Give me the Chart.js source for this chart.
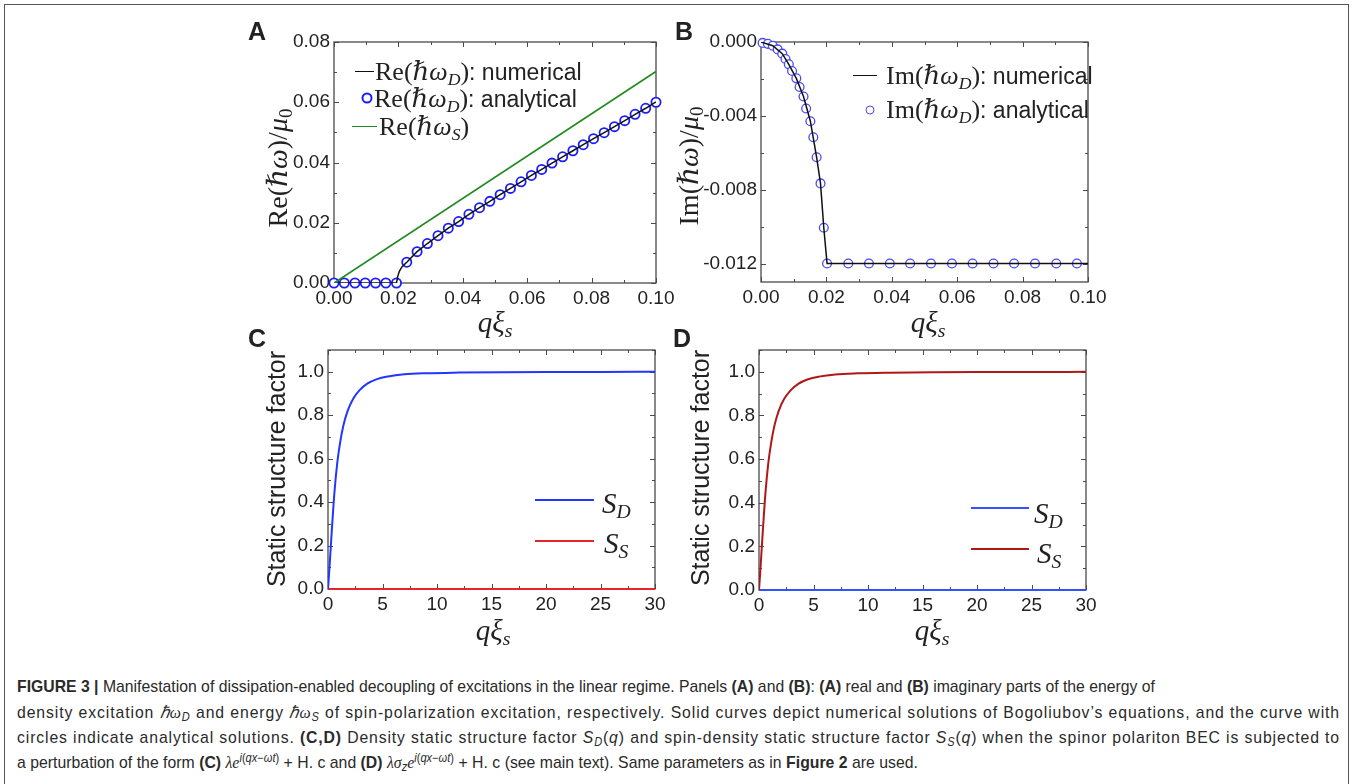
<!DOCTYPE html>
<html lang="en">
<head>
<meta charset="UTF-8">
<title>Figure 3</title>
<script src="https://cdn.jsdelivr.net/npm/chart.js"></script>
<style>
    body {
        margin: 0;
        width: 1352px;
        height: 784px;
        overflow: hidden;
        position: relative;
        background: #fff;
        color: #222;
        font-family: "Liberation Sans", Arial, sans-serif;
    }
    #frame {
        position: absolute;
        left: 4px; top: 4px;
        width: 1345px; height: 900px;
        box-sizing: border-box;
        border: 1.5px solid #555;
    }
    .box { position: absolute; }
    .letter { position: absolute; font-weight: bold; font-size: 25px; line-height: 25px; }
    .m { font-family: "Liberation Serif", "DejaVu Serif", serif; }
    .m sub, .leg sub { font-size: 68%; vertical-align: -0.3em; line-height: 0; }
    .ytitle { position: absolute; white-space: nowrap; transform: translate(-50%, -50%) rotate(-90deg); }
    .xtitle { position: absolute; white-space: nowrap; transform: translate(-50%, -50%); }
    .leg { position: absolute; white-space: nowrap; transform: translateY(-50%); line-height: 1; }
    .legline { position: absolute; height: 0; }
    .legcirc { position: absolute; width: 7px; height: 7px; border-radius: 50%; background: #fff; transform: translate(-50%, -50%); }
    .cap { position: absolute; left: 17px; white-space: nowrap; font-size: 17px; line-height: 20px; color: #2a2a2a; transform-origin: 0 50%; }
    .cap sub, .cap sup { font-size: 70%; line-height: 0; }
    .cap sub { vertical-align: -0.25em; }
    .cap sup { vertical-align: 0.5em; }
    .cap i.s { font-family: "Liberation Serif", serif; }
</style>
</head>
<body>
<div id="frame"></div>

<div class="box" id="boxA"><canvas id="chartA"></canvas></div>
<div class="box" id="boxB"><canvas id="chartB"></canvas></div>
<div class="box" id="boxC"><canvas id="chartC"></canvas></div>
<div class="box" id="boxD"><canvas id="chartD"></canvas></div>

<div class="letter" style="left:248px; top:19px;">A</div>
<div class="letter" style="left:675px; top:19px;">B</div>
<div class="letter" style="left:248px; top:326px;">C</div>
<div class="letter" style="left:673px; top:326px;">D</div>

<!-- axis titles -->
<div class="ytitle m" style="left:277px; top:168px; font-size:28px;">Re(<i>ℏω</i>)/<i>μ</i><sub>0</sub></div>
<div class="ytitle m" style="left:688px; top:166px; font-size:28px;">Im(<i>ℏω</i>)/<i>μ</i><sub>0</sub></div>
<div class="ytitle" style="left:276px; top:469px; font-size:25px;">Static structure factor</div>
<div class="ytitle" style="left:700px; top:468px; font-size:25px;">Static structure factor</div>
<div class="xtitle m" style="left:495px; top:322px; font-size:29px;"><i>qξ<sub>s</sub></i></div>
<div class="xtitle m" style="left:928px; top:322px; font-size:29px;"><i>qξ<sub>s</sub></i></div>
<div class="xtitle m" style="left:493px; top:630px; font-size:29px;"><i>qξ<sub>s</sub></i></div>
<div class="xtitle m" style="left:932px; top:630px; font-size:29px;"><i>qξ<sub>s</sub></i></div>

<!-- legend A -->
<div class="legline" style="left:355px; top:71px; width:19px; border-top:1.6px solid #111;"></div>
<div class="leg" style="left:375px; top:72px;"><span class="m" style="font-size:26px;">Re(<i>ℏω</i><sub><i>D</i></sub>)</span><span style="font-size:23px;">: numerical</span></div>
<div class="legcirc" style="left:367px; top:98px; border:2px solid #1c1cff;"></div>
<div class="leg" style="left:374px; top:99px;"><span class="m" style="font-size:26px;">Re(<i>ℏω</i><sub><i>D</i></sub>)</span><span style="font-size:23px;">: analytical</span></div>
<div class="legline" style="left:352px; top:126px; width:25px; border-top:1.6px solid #1f8a1f;"></div>
<div class="leg" style="left:379px; top:127px;"><span class="m" style="font-size:26px;">Re(<i>ℏω</i><sub><i>S</i></sub>)</span></div>

<!-- legend B -->
<div class="legline" style="left:853px; top:75px; width:24px; border-top:1.6px solid #111;"></div>
<div class="leg" style="left:886px; top:76px;"><span class="m" style="font-size:26px;">Im(<i>ℏω</i><sub><i>D</i></sub>)</span><span style="font-size:23px;">: numerical</span></div>
<div class="legcirc" style="left:870px; top:110px; border:1.6px solid #4a4af5;"></div>
<div class="leg" style="left:886px; top:110px;"><span class="m" style="font-size:26px;">Im(<i>ℏω</i><sub><i>D</i></sub>)</span><span style="font-size:23px;">: analytical</span></div>

<!-- legend C -->
<div class="legline" style="left:535px; top:499px; width:59px; border-top:2px solid #2136ff;"></div>
<div class="leg m" style="left:602px; top:503px; font-size:29px;"><i>S<sub>D</sub></i></div>
<div class="legline" style="left:535px; top:540px; width:59px; border-top:2px solid #e2262a;"></div>
<div class="leg m" style="left:604px; top:543px; font-size:29px;"><i>S<sub>S</sub></i></div>

<!-- legend D -->
<div class="legline" style="left:971px; top:507px; width:58px; border-top:2px solid #3550ff;"></div>
<div class="leg m" style="left:1034px; top:513px; font-size:29px;"><i>S<sub>D</sub></i></div>
<div class="legline" style="left:971px; top:548px; width:58px; border-top:2px solid #b01818;"></div>
<div class="leg m" style="left:1037px; top:553px; font-size:29px;"><i>S<sub>S</sub></i></div>

<!-- caption -->
<div class="cap" data-w="1138" style="top:677px;"><b>FIGURE 3 |</b> Manifestation of dissipation-enabled decoupling of excitations in the linear regime. Panels <b>(A)</b> and <b>(B)</b>: <b>(A)</b> real and <b>(B)</b> imaginary parts of the energy of</div>
<div class="cap" data-w="1323" style="top:703px;">density excitation <i class="s">ℏω</i><sub><i>D</i></sub> and energy <i class="s">ℏω</i><sub><i>S</i></sub> of spin-polarization excitation, respectively. Solid curves depict numerical solutions of Bogoliubov’s equations, and the curve with</div>
<div class="cap" data-w="1323" style="top:728px;">circles indicate analytical solutions. <b>(C,D)</b> Density static structure factor <i>S</i><sub><i>D</i></sub>(<i>q</i>) and spin-density static structure factor <i>S</i><sub><i>S</i></sub>(<i>q</i>) when the spinor polariton BEC is subjected to</div>
<div class="cap" data-w="901" style="top:753px;">a perturbation of the form <b>(C)</b> <i class="s">λe</i><sup><i>i</i>(<i>qx</i>−<i>ωt</i>)</sup> + H. c and <b>(D)</b> <i class="s">λσ</i><sub><i>z</i></sub><i class="s">e</i><sup><i>i</i>(<i>qx</i>−<i>ωt</i>)</sup> + H. c (see main text). Same parameters as in <b>Figure 2</b> are used.</div>

<script>
// ---- panel A: real part ----
const qCircA = [0, 0.0032, 0.0065, 0.0097, 0.0129, 0.0161, 0.0194, 0.0226, 0.0258, 0.0290, 0.0323,
    0.0355, 0.0387, 0.0419, 0.0452, 0.0484, 0.0516, 0.0548, 0.0581, 0.0613, 0.0645, 0.0677,
    0.0710, 0.0742, 0.0774, 0.0806, 0.0839, 0.0871, 0.0903, 0.0935, 0.0968, 0.1000];
const reAnalytical = [0, 0, 0, 0, 0, 0, 0, 0.0069, 0.0104, 0.0131, 0.0157,
    0.0182, 0.0204, 0.0228, 0.0250, 0.0271, 0.0293, 0.0314, 0.0336, 0.0357, 0.0377, 0.0398,
    0.0419, 0.0439, 0.0459, 0.0479, 0.0499, 0.0519, 0.0539, 0.0560, 0.0580, 0.0600];
const qNumA = [0, 0.0194, 0.0198, 0.0203, 0.0210, 0.0218, 0.0226, 0.0258, 0.0290, 0.0323, 0.0355,
    0.0387, 0.0419, 0.0452, 0.0484, 0.0516, 0.0548, 0.0581, 0.0613, 0.0645, 0.0677, 0.0710,
    0.0742, 0.0774, 0.0806, 0.0839, 0.0871, 0.0903, 0.0935, 0.0968, 0.1000];
const reNumerical = [0, 0, 0.0022, 0.0039, 0.0052, 0.0061, 0.0069, 0.0104, 0.0131, 0.0157, 0.0182,
    0.0204, 0.0228, 0.0250, 0.0271, 0.0293, 0.0314, 0.0336, 0.0357, 0.0377, 0.0398, 0.0419,
    0.0439, 0.0459, 0.0479, 0.0499, 0.0519, 0.0539, 0.0560, 0.0580, 0.0601];
const qSpinA = [0, 0.1];
const reSpin = [0, 0.0702];
const xTicksA = [0, 0.02, 0.04, 0.06, 0.08, 0.10];
const yTicksA = [0, 0.02, 0.04, 0.06, 0.08];

// ---- panel B: imaginary part ----
const qCircB = [0.0005, 0.0021, 0.0036, 0.0051, 0.0065, 0.0075, 0.0085, 0.0095, 0.0108, 0.0118,
    0.0130, 0.0138, 0.0151, 0.0160, 0.0170, 0.0182, 0.0192, 0.0202, 0.0267, 0.0330, 0.0394,
    0.0456, 0.0520, 0.0584, 0.0647, 0.0711, 0.0774, 0.0838, 0.0903, 0.0966];
const imAnalytical = [-0.00005, -0.0001, -0.0002, -0.0004, -0.00063, -0.00092, -0.00121, -0.00157,
    -0.00197, -0.00244, -0.00295, -0.0036, -0.00429, -0.00516, -0.00624, -0.00766, -0.01006,
    -0.012, -0.012, -0.012, -0.012, -0.012, -0.012, -0.012, -0.012, -0.012, -0.012, -0.012, -0.012, -0.012];
const qNumB = [0, 0.0036, 0.0065, 0.0085, 0.0108, 0.0130, 0.0151, 0.0170, 0.0182, 0.0192, 0.0202, 0.1];
const imNumerical = [0, -0.0002, -0.00063, -0.00121, -0.00197, -0.00295, -0.00429, -0.00624,
    -0.00766, -0.01006, -0.012, -0.012];
const xTicksB = [0, 0.02, 0.04, 0.06, 0.08, 0.10];
const yTicksB = [-0.012, -0.008, -0.004, 0];

// ---- panels C, D: static structure factors ----
const qSF = [0, 0.15, 0.35, 0.6, 0.85, 1.1, 1.4, 1.8, 2.3, 2.9, 3.6, 4.5, 5.5, 7, 9, 12, 16, 20, 25, 30];
const sDensityC = [0, 0.11, 0.27, 0.45, 0.58, 0.67, 0.75, 0.82, 0.875, 0.915, 0.945, 0.966, 0.978,
    0.988, 0.993, 0.996, 0.998, 0.999, 0.999, 1.0];
const sSpinD = [0, 0.11, 0.27, 0.45, 0.58, 0.67, 0.75, 0.82, 0.875, 0.915, 0.945, 0.966, 0.978,
    0.988, 0.993, 0.996, 0.998, 0.999, 0.999, 1.0];
const qFlat = [0, 30];
const sZero = [0, 0];
const xTicksSF = [0, 5, 10, 15, 20, 25, 30];
const yTicksSF = [0, 0.2, 0.4, 0.6, 0.8, 1.0];

const pts = (xs, ys) => xs.map((x, i) => ({ x: x, y: ys[i] }));

// frame box + inward major/minor ticks on all four sides
const frameTicks = {
    id: 'frameTicks',
    beforeDatasetsDraw(chart, args, o) {
        const { ctx, chartArea: a, scales: { x, y } } = chart;
        ctx.save();
        ctx.strokeStyle = '#4a4a4a';
        ctx.lineWidth = 1.3;
        ctx.strokeRect(a.left, a.top, a.right - a.left, a.bottom - a.top);
        ctx.lineWidth = 1;
        ctx.beginPath();
        const n = Math.round((x.max - x.min) / o.xMinor);
        for (let i = 0; i <= n; i++) {
            const px = Math.round(x.getPixelForValue(x.min + i * o.xMinor)) + 0.5;
            const len = i % 2 === 0 ? 5 : 3;
            ctx.moveTo(px, a.bottom); ctx.lineTo(px, a.bottom - len);
            ctx.moveTo(px, a.top); ctx.lineTo(px, a.top + len);
        }
        const m = Math.round((y.max - y.min) / o.yMinor);
        for (let j = 0; j <= m; j++) {
            const v = o.yStart + j * o.yMinor;
            if (v < y.min - 1e-9 || v > y.max + 1e-9) continue;
            const py = Math.round(y.getPixelForValue(v)) + 0.5;
            const len = Math.round((v - o.yStart) / o.yMinor) % 2 === 0 ? 5 : 3;
            ctx.moveTo(a.left, py); ctx.lineTo(a.left + len, py);
            ctx.moveTo(a.right, py); ctx.lineTo(a.right - len, py);
        }
        ctx.stroke();
        ctx.restore();
    }
};

const tickFont = { family: '"Liberation Sans", Arial, sans-serif', size: 19 };

function makeChart(id, boxId, area, c) {
    const box = document.getElementById(boxId);
    box.style.left = (area[0] - 90) + 'px';
    box.style.top = (area[1] - 20) + 'px';
    box.style.width = (area[2] - area[0] + 130) + 'px';
    box.style.height = (area[3] - area[1] + 60) + 'px';
    return new Chart(document.getElementById(id), {
        type: 'scatter',
        data: { datasets: c.datasets },
        options: {
            responsive: true,
            maintainAspectRatio: false,
            animation: false,
            events: [],
            layout: { padding: { top: 20, right: 40, left: 0, bottom: 0 } },
            elements: { point: { radius: 0 }, line: { tension: 0 } },
            plugins: { legend: { display: false }, tooltip: { enabled: false }, frameTicks: c.frame },
            scales: {
                x: {
                    type: 'linear', min: c.xMin, max: c.xMax,
                    grid: { display: false, drawTicks: false }, border: { display: false },
                    afterBuildTicks: s => { s.ticks = c.xTicks.map(v => ({ value: v })); },
                    afterFit: s => { s.height = 40; },
                    ticks: { font: tickFont, color: '#222', padding: 4, maxRotation: 0, autoSkip: false, callback: c.xFmt }
                },
                y: {
                    type: 'linear', min: c.yMin, max: c.yMax,
                    grid: { display: false, drawTicks: false }, border: { display: false },
                    afterBuildTicks: s => { s.ticks = c.yTicks.map(v => ({ value: v })); },
                    afterFit: s => { s.width = 90; },
                    ticks: { font: tickFont, color: '#222', padding: 4, autoSkip: false, callback: c.yFmt }
                }
            }
        },
        plugins: [frameTicks]
    });
}

const lineSet = (data, color, width, extra) => Object.assign({
    data: data, showLine: true, borderColor: color, borderWidth: width,
    pointRadius: 0, fill: false
}, extra || {});

makeChart('chartA', 'boxA', [334, 42, 656, 283], {
    xMin: 0, xMax: 0.1, yMin: 0, yMax: 0.08,
    xTicks: xTicksA, yTicks: yTicksA,
    xFmt: v => v.toFixed(2), yFmt: v => v.toFixed(2),
    frame: { xMinor: 0.01, yMinor: 0.01, yStart: 0 },
    datasets: [
        lineSet(pts(qSpinA, reSpin), '#1f8a1f', 1.7),
        lineSet(pts(qNumA, reNumerical), '#111', 1.5),
        { data: pts(qCircA, reAnalytical), showLine: false, pointRadius: 4.6, pointBorderWidth: 1.8,
          pointBorderColor: '#1c1cff', pointBackgroundColor: '#fff', clip: 8 }
    ]
});

makeChart('chartB', 'boxB', [761, 42, 1088, 282], {
    xMin: 0, xMax: 0.1, yMin: -0.013, yMax: 0,
    xTicks: xTicksB, yTicks: yTicksB,
    xFmt: v => v.toFixed(2), yFmt: v => v.toFixed(3),
    frame: { xMinor: 0.01, yMinor: 0.002, yStart: -0.012 },
    datasets: [
        lineSet(pts(qNumB, imNumerical), '#111', 1.5),
        { data: pts(qCircB, imAnalytical), showLine: false, pointRadius: 4.4, pointBorderWidth: 1.3,
          pointBorderColor: '#4a4af5', pointBackgroundColor: '#fff', clip: 8 }
    ]
});

makeChart('chartC', 'boxC', [328, 350, 655, 589], {
    xMin: 0, xMax: 30, yMin: 0, yMax: 1.1,
    xTicks: xTicksSF, yTicks: yTicksSF,
    xFmt: v => String(v), yFmt: v => v.toFixed(1),
    frame: { xMinor: 2.5, yMinor: 0.1, yStart: 0 },
    datasets: [
        lineSet(pts(qSF, sDensityC), '#2136ff', 2, { cubicInterpolationMode: 'monotone' }),
        lineSet(pts(qFlat, sZero), '#e2262a', 2.2, { clip: 4 })
    ]
});

makeChart('chartD', 'boxD', [759, 350, 1086, 590], {
    xMin: 0, xMax: 30, yMin: 0, yMax: 1.1,
    xTicks: xTicksSF, yTicks: yTicksSF,
    xFmt: v => String(v), yFmt: v => v.toFixed(1),
    frame: { xMinor: 2.5, yMinor: 0.1, yStart: 0 },
    datasets: [
        lineSet(pts(qSF, sSpinD), '#b01818', 2, { cubicInterpolationMode: 'monotone' }),
        lineSet(pts(qFlat, sZero), '#3550ff', 2.2, { clip: 4 })
    ]
});

// one common horizontal squeeze for the caption; letter spacing fills each line to its width
function fitCaption() {
    const caps = Array.from(document.querySelectorAll('.cap'));
    caps.forEach(el => { el.style.transform = 'none'; el.style.letterSpacing = '0px'; });
    const s = parseFloat(caps[0].dataset.w) / caps[0].getBoundingClientRect().width;
    caps.forEach(el => {
        const nat = el.getBoundingClientRect().width;
        const chars = el.textContent.length;
        const extra = (parseFloat(el.dataset.w) / s - nat) / chars;
        el.style.letterSpacing = extra + 'px';
        el.style.transform = 'scaleX(' + s + ')';
    });
}
fitCaption();
if (document.fonts && document.fonts.ready) document.fonts.ready.then(fitCaption);
</script>
</body>
</html>
